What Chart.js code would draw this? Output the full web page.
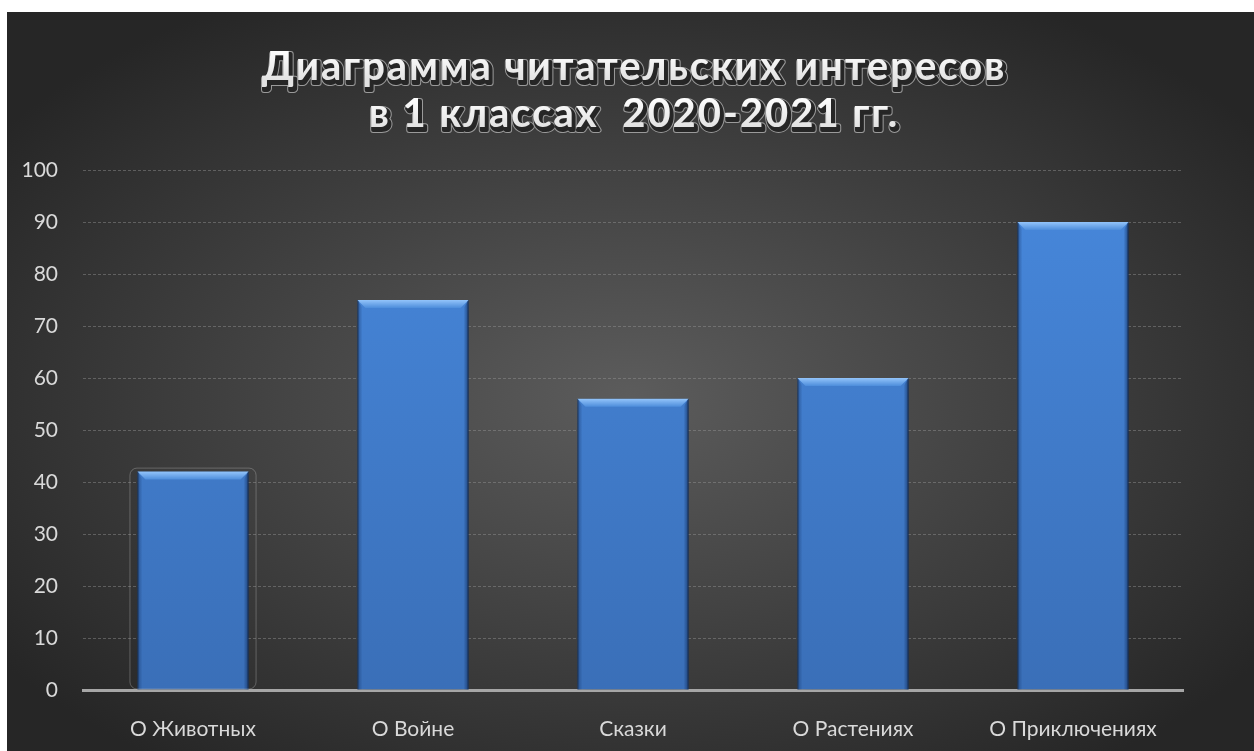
<!DOCTYPE html>
<html lang="ru">
<head>
<meta charset="utf-8">
<title>Диаграмма читательских интересов</title>
<script src="https://cdn.jsdelivr.net/npm/chart.js@4.4.0/dist/chart.umd.min.js"></script>
<style>
  html, body { margin: 0; padding: 0; background: #ffffff; }
  #wrap { position: absolute; left: 7px; top: 12px; width: 1247px; height: 739px; }
</style>
</head>
<body>
<div id="wrap"><canvas id="readingChart"></canvas></div>
<script>
// данные диаграммы
const titleLines = ['Диаграмма читательских интересов', 'в 1 классах  2020-2021 гг.'];
const categories = ['О Животных', 'О Войне', 'Сказки', 'О Растениях', 'О Приключениях'];
const interestValues = [42, 75, 56, 60, 90];
const yMin = 0;
const yMax = 100;
const yStep = 10;
const selectedIndex = 0; // выделенный столбик (рамка выделения)

// тёмный радиальный фон
const backgroundPlugin = {
  id: 'darkBackground',
  beforeDraw(chart) {
    const { ctx, width, height } = chart;
    const cx = width * 0.5, cy = height * 0.52;
    const k = height / width;
    ctx.save();
    ctx.translate(cx, cy);
    ctx.scale(1, k);
    const g = ctx.createRadialGradient(0, 0, 0, 0, 0, width * 0.62);
    g.addColorStop(0, '#5c5c5c');
    g.addColorStop(0.4, '#474747');
    g.addColorStop(1, '#262626');
    ctx.fillStyle = g;
    ctx.fillRect(-cx, -cy / k, width, height / k);
    ctx.restore();
  }
};

// заголовок с тенью и обводкой
const titlePlugin = {
  id: 'embossTitle',
  afterDraw(chart) {
    const { ctx, chartArea } = chart;
    const x = (chartArea.left + chartArea.right) / 2 + 1;
    ctx.save();
    ctx.font = 'bold 40px Lato';
    ctx.letterSpacing = '2px';
    ctx.textAlign = 'center';
    ctx.textBaseline = 'alphabetic';
    ctx.lineJoin = 'round';
    titleLines.forEach((line, i) => {
      const y = 68 + i * 47;
      // контур тени
      ctx.lineWidth = 6;
      ctx.strokeStyle = '#9a9a9a';
      ctx.strokeText(line, x + 2, y + 3);
      ctx.lineWidth = 4;
      ctx.strokeStyle = '#262626';
      ctx.strokeText(line, x + 2, y + 3);
      ctx.fillStyle = '#262626';
      ctx.fillText(line, x + 2, y + 3);
      // сам текст
      const tg = ctx.createLinearGradient(0, y - 30, 0, y);
      tg.addColorStop(0, '#ffffff');
      tg.addColorStop(1, '#e2e2e2');
      ctx.fillStyle = tg;
      ctx.fillText(line, x, y);
    });
    ctx.restore();
  }
};

// объём столбиков
const bevelPlugin = {
  id: 'barBevel',
  beforeDatasetsDraw(chart) {
    const ctx = chart.ctx;
    ctx.save();
    ctx.shadowColor = 'rgba(0, 0, 0, 0.8)';
    ctx.shadowBlur = 14;
  },
  afterDatasetsDraw(chart) {
    const ctx = chart.ctx;
    ctx.restore();
    const meta = chart.getDatasetMeta(0);
    meta.data.forEach((bar, i) => {
      const { x, y, base, width } = bar.getProps(['x', 'y', 'base', 'width'], true);
      const l = x - width / 2, r = x + width / 2, b = 8, s = 5;
      ctx.save();
      // верхняя грань
      const tg = ctx.createLinearGradient(0, y, 0, y + b);
      tg.addColorStop(0, '#93c4fa');
      tg.addColorStop(1, '#4d8ddb');
      ctx.fillStyle = tg;
      ctx.beginPath();
      ctx.moveTo(l, y); ctx.lineTo(r, y); ctx.lineTo(r - b, y + b); ctx.lineTo(l + b, y + b);
      ctx.closePath();
      ctx.fill();
      // левая грань
      const lg = ctx.createLinearGradient(l, 0, l + s, 0);
      lg.addColorStop(0, 'rgba(25, 60, 115, 0.6)');
      lg.addColorStop(1, 'rgba(25, 60, 115, 0)');
      ctx.fillStyle = lg;
      ctx.beginPath();
      ctx.moveTo(l, y); ctx.lineTo(l + s, y + b); ctx.lineTo(l + s, base); ctx.lineTo(l, base);
      ctx.closePath();
      ctx.fill();
      // правая грань
      const rg = ctx.createLinearGradient(r, 0, r - s, 0);
      rg.addColorStop(0, 'rgba(20, 50, 100, 0.75)');
      rg.addColorStop(1, 'rgba(20, 50, 100, 0)');
      ctx.fillStyle = rg;
      ctx.beginPath();
      ctx.moveTo(r, y); ctx.lineTo(r - s, y + b); ctx.lineTo(r - s, base); ctx.lineTo(r, base);
      ctx.closePath();
      ctx.fill();
      // рамка выделения
      if (i === selectedIndex) {
        ctx.strokeStyle = 'rgba(190, 190, 190, 0.35)';
        ctx.lineWidth = 1;
        ctx.beginPath();
        ctx.roundRect(l - 7.5, y - 3.5, width + 15, base - y + 3, 7);
        ctx.stroke();
      }
      ctx.restore();
    });
  }
};

function barFill(context) {
  const area = context.chart.chartArea;
  if (!area) return '#3f7fd0';
  const g = context.chart.ctx.createLinearGradient(0, area.top, 0, area.bottom);
  g.addColorStop(0, '#4788dc');
  g.addColorStop(1, '#3a6fb8');
  return g;
}

function createChart() {
  const ctx = document.getElementById('readingChart').getContext('2d');
  new Chart(ctx, {
    type: 'bar',
    data: {
      labels: categories,
      datasets: [{
        label: 'Интерес',
        data: interestValues,
        backgroundColor: barFill,
        borderColor: '#2d5c9c',
        borderWidth: 1,
        categoryPercentage: 1,
        barPercentage: 0.505
      }]
    },
    options: {
      responsive: true,
      maintainAspectRatio: false,
      animation: false,
      layout: { padding: { top: 158, right: 71, left: 0, bottom: 0 } },
      scales: {
        x: {
          grid: { display: false },
          border: { display: true, color: '#a6a6a6', width: 3 },
          ticks: {
            color: '#d9d9d9',
            font: { family: 'Lato', size: 21 },
            padding: 19,
            maxRotation: 0
          },
          afterFit(scale) { scale.height = 61; }
        },
        y: {
          min: yMin,
          max: yMax,
          ticks: {
            stepSize: yStep,
            color: '#d9d9d9',
            font: { family: 'Lato', size: 21 },
            padding: 25
          },
          grid: { color: 'rgba(150, 150, 150, 0.45)', drawTicks: false, lineWidth: 1 },
          border: { display: false, dash: [3, 2] },
          afterFit(scale) { scale.width = 76; }
        }
      },
      plugins: {
        legend: { display: false },
        tooltip: { enabled: false }
      }
    },
    plugins: [backgroundPlugin, titlePlugin, bevelPlugin]
  });
}

Promise.all([
  document.fonts.load('bold 40px Lato'),
  document.fonts.load('21px Lato')
]).then(createChart, createChart);
</script>
</body>
</html>
